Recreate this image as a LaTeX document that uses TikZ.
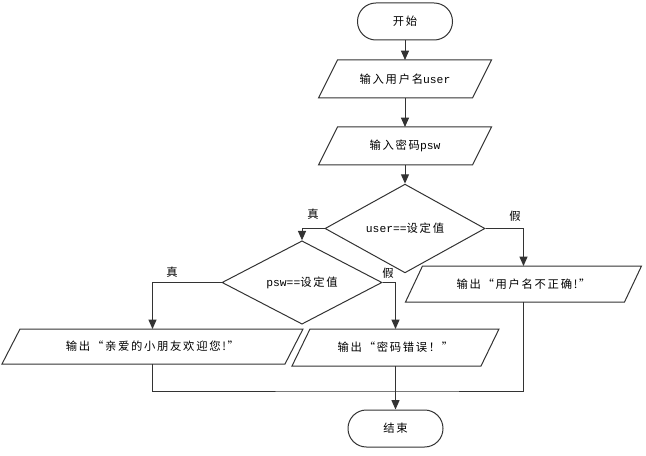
\documentclass[tikz,border=0pt]{standalone}
\usepackage{fontspec}
\setmainfont{Liberation Mono}
\newfontfamily\cjk{Noto Sans CJK SC}[LetterSpace=15]
\usetikzlibrary{shapes.geometric,arrows.meta}
\newcommand\drawio[2]{\draw[line] ([xshift=#2]#1.north west) -- (#1.north east)
  -- ([xshift=-#2]#1.south east) -- (#1.south west) -- cycle;}
\begin{document}
\begin{tikzpicture}[x=0.75pt,y=-0.75pt,
  every node/.style={font=\fontsize{8.5pt}{10pt}\selectfont, text=black},
  line/.style={draw=black!80, line width=0.75pt},
  arr/.style={line, -{Triangle[length=7pt,width=6pt]}},
  term/.style={draw=black!80, line width=0.75pt, rectangle, rounded corners=13.8pt,
     minimum width=0.75*95pt, minimum height=0.75*37pt, inner sep=0pt},
  io/.style={rectangle, draw=none, inner sep=0pt, outer sep=0pt},
  dec/.style={draw=black!80, line width=0.75pt, diamond, inner sep=0pt,
     minimum width=0.75*160pt},
  lab/.style={inner sep=0pt}
]
\useasboundingbox (0,0) rectangle (646,456);

\node[term] (start) at (405,21.5) {\cjk 开始};
\node[io, minimum width=0.75*173pt, minimum height=0.75*38pt] (in1) at (405,79)
  {{\cjk 输入用户名}user};
\node[io, minimum width=0.75*173pt, minimum height=0.75*38pt] (in2) at (405,146)
  {{\cjk 输入密码}psw};
\node[dec, minimum height=0.75*73pt] (d1) at (405,228.5) {user=={\cjk 设定值}};
\node[dec, minimum height=0.75*75pt] (d2) at (302,282.5) {psw=={\cjk 设定值}};
\node[io, minimum width=0.75*236pt, minimum height=0.75*36pt] (out3) at (523.5,284)
  {\cjk 输出“用户名不正确!”};
\node[io, minimum width=0.75*301pt, minimum height=0.75*35pt] (out1) at (152.5,346.5)
  {\cjk 输出“亲爱的小朋友欢迎您!”};
\node[io, minimum width=0.75*207pt, minimum height=0.75*37pt] (out2) at (395.5,347.5)
  {\cjk 输出“密码错误！”};
\node[term] (end) at (395.5,428.5) {\cjk 结束};

\drawio{in1}{14.25pt}
\drawio{in2}{14.25pt}
\drawio{out3}{12.75pt}
\drawio{out1}{13.5pt}
\drawio{out2}{13.5pt}

\node[lab] (t1) at (313,214) {\cjk 真};
\node[lab] (f1) at (515,216) {\cjk 假};
\node[lab] (t2) at (172,272) {\cjk 真};
\node[lab] (f2) at (388,273) {\cjk 假};

\coordinate (j) at (396,391);

\draw[arr] (start) -- (in1);
\draw[arr] (in1) -- (in2);
\draw[arr] (in2) -- (d1);
\draw[arr] (d1.west) -| (d2.north);
\draw[arr] (d1.east) -| (out3.north);
\draw[arr] (d2.west) -| (out1.north);
\draw[arr] (d2.east) -| (out2.north);
\draw[arr] (out2.south) -- (end.north);
\draw[line] (out1.south) |- (j) -| (out3.south);
\end{tikzpicture}
\end{document}
